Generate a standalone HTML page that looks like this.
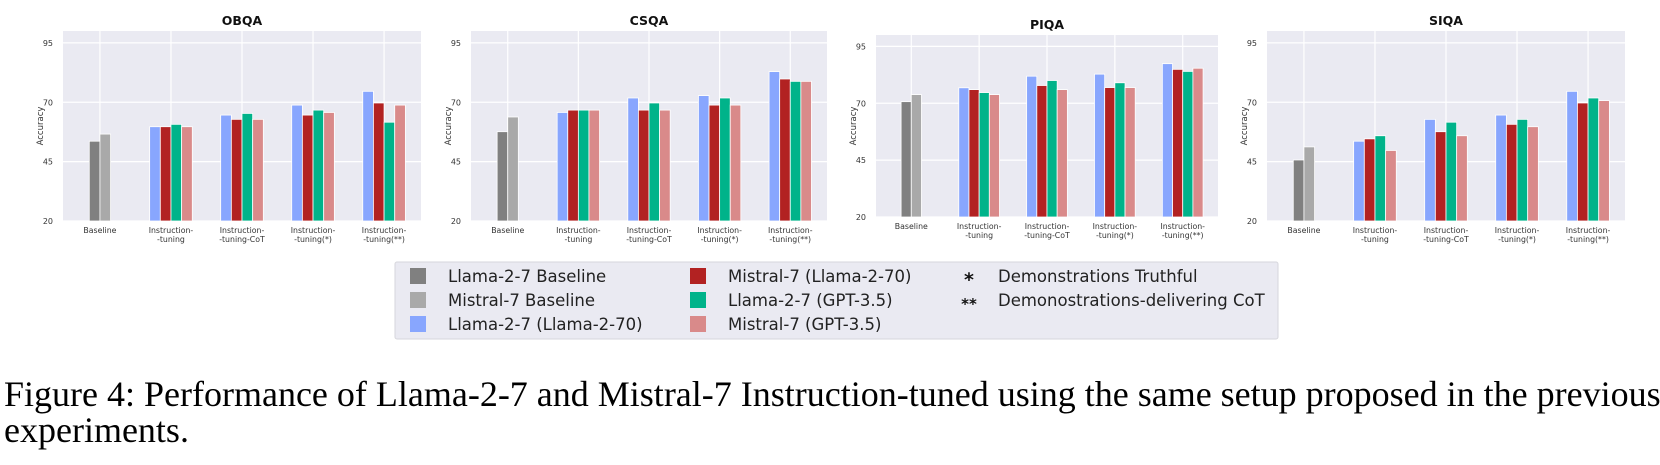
<!DOCTYPE html>
<html><head><meta charset="utf-8">
<style>
html,body{margin:0;padding:0;background:#fff;}
body{width:1660px;height:465px;position:relative;overflow:hidden;}
svg{position:absolute;left:0;top:0;}
.caption{position:absolute;left:4px;top:376px;font-family:"Liberation Serif",serif;font-size:36px;line-height:36px;color:#000;white-space:nowrap;}
</style></head>
<body>
<svg id="chart" width="1660" height="350" xmlns="http://www.w3.org/2000/svg" font-family="DejaVu Sans, Liberation Sans, sans-serif"></svg>
<div class="caption">Figure 4: Performance of Llama-2-7 and Mistral-7 Instruction-tuned using the same setup proposed in the previous<br>experiments.</div>
<script>
const panelTitles = ["OBQA","CSQA","PIQA","SIQA"];
const categories = ["Baseline","Instruction-\n-tuning","Instruction-\n-tuning-CoT","Instruction-\n-tuning(*)","Instruction-\n-tuning(**)"];
const yTicks = [20,45,70,95];
const seriesNames = ["Llama-2-7 Baseline","Mistral-7 Baseline","Llama-2-7 (Llama-2-70)","Mistral-7 (Llama-2-70)","Llama-2-7 (GPT-3.5)","Mistral-7 (GPT-3.5)"];
// baseline values: [llama, mistral]
const baselineOBQA = [53.6,56.6];
const baselineCSQA = [57.6,63.8];
const baselinePIQA = [70.7,73.8];
const baselineSIQA = [45.7,51.2];
// instruction groups: each row = [llama(l70), mistral(l70), llama(gpt), mistral(gpt)]
const obqa = [[59.7,59.7,60.7,59.7],[64.6,62.8,65.3,62.8],[68.8,64.6,66.7,65.7],[74.6,69.7,61.6,68.8]];
const csqa = [[65.7,66.7,66.7,66.7],[71.8,66.7,69.7,66.7],[72.8,68.8,71.8,68.8],[82.9,79.8,78.8,78.8]];
const piqa = [[76.8,76.0,74.7,73.8],[81.9,77.8,80.0,76.0],[82.8,76.9,79.0,76.9],[87.4,84.9,84.0,85.4]];
const siqa = [[53.6,54.6,55.9,49.7],[62.8,57.6,61.6,55.9],[64.6,60.7,62.8,59.7],[74.6,69.7,71.8,70.7]];

const baselines=[baselineOBQA,baselineCSQA,baselinePIQA,baselineSIQA];
const groups=[obqa,csqa,piqa,siqa];
const colors=["#808080","#a9a9a9","#88a6fe","#b22222","#00b38a","#d98a8a"];
const layout=[{l:63,r:421,t:31,b:221},{l:471,r:827,t:31,b:221},{l:876,r:1218,t:35,b:217},{l:1267,r:1625,t:31,b:221}];
const NS="http://www.w3.org/2000/svg";
const svg=document.getElementById('chart');
function mk(tag,attrs,parent){const e=document.createElementNS(NS,tag);for(const k in attrs)e.setAttribute(k,attrs[k]);(parent||svg).appendChild(e);return e;}
const bw=0.15;
layout.forEach((L,p)=>{
  const g=mk('g',{});
  
  
  const x=v=>L.l+(v+0.52)/5.04*(L.r-L.l);
  const y=v=>L.b-(v-20)/80*(L.b-L.t);
  const bg=mk('rect',{x:L.l,y:L.t,width:L.r-L.l,height:L.b-L.t,fill:"#eaeaf2"},g);
  
  
  yTicks.forEach(t=>{
    mk('line',{x1:L.l,x2:L.r,y1:y(t),y2:y(t),stroke:"#fff","stroke-width":1.2},g);
    const tl=mk('text',{x:L.l-10,y:y(t)+3,"font-size":8,fill:"#333","text-anchor":"end"},g);
    tl.textContent=t;
    
    
  });
  categories.forEach((c,i)=>{
    mk('line',{x1:x(i),x2:x(i),y1:L.t,y2:L.b,stroke:"#fff","stroke-width":1.2},g);
    const lines=c.split("\n");
    lines.forEach((ln,j)=>{
      const tl=mk('text',{x:x(i),y:L.b+12+j*9,"font-size":7.8,fill:"#333","text-anchor":"middle"},g);
      tl.textContent=ln;
      
      
    });
  });
  const bl=baselines[p];
  bl.forEach((v,k)=>{
    const cx=(k-0.5)*bw;
    const r=mk('rect',{x:x(cx-bw/2),y:y(v),width:x(bw)-x(0),height:y(20)-y(v),fill:colors[k],stroke:"#fff","stroke-width":0.8},g);
    
    
  });
  groups[p].forEach((row,gi)=>{
    row.forEach((v,k)=>{
      const cx=gi+1+(k-1.5)*bw;
      const r=mk('rect',{x:x(cx-bw/2),y:y(v),width:x(bw)-x(0),height:y(20)-y(v),fill:colors[k+2],stroke:"#fff","stroke-width":0.8},g);
      
      
    });
  });
  const tt=mk('text',{x:(L.l+L.r)/2,y:L.t-6,"font-size":12.5,"font-weight":"bold",fill:"#111","text-anchor":"middle"},g);
  tt.textContent=panelTitles[p];
  
  
  const ya=mk('text',{x:0,y:0,"font-size":8.5,fill:"#333","text-anchor":"middle",transform:`translate(${L.l-20},${(L.t+L.b)/2}) rotate(-90)`},g);
  ya.textContent="Accuracy";
  
  
});
const lg=mk('g',{});


mk('rect',{x:395,y:262,width:883,height:77,fill:"#eaeaf2",stroke:"#d6d6dc","stroke-width":1,rx:2},lg);
const colX=[410,690];
seriesNames.forEach((n,i)=>{
  const col=Math.floor(i/3),row=i%3;
  const cy=276+row*24;
  const e=mk('g',{},lg);
  
  
  mk('rect',{x:colX[col],y:cy-8,width:16,height:16,fill:colors[i]},e);
  const t=mk('text',{x:colX[col]+38,y:cy+6,"font-size":16.5,fill:"#222"},e);
  t.textContent=n;
});
[["*","Demonstrations Truthful"],["**","Demonostrations-delivering CoT"]].forEach((d,i)=>{
  const cy=276+i*24;
  const e=mk('g',{},lg);
  
  
  const s=mk('text',{x:969,y:cy+(i?9:10),"font-size":i?15:19,"font-weight":"bold",fill:"#111","text-anchor":"middle"},e);
  s.textContent=d[0];
  const t=mk('text',{x:998,y:cy+6,"font-size":16.5,fill:"#222"},e);
  t.textContent=d[1];
});
</script>
</body></html>
